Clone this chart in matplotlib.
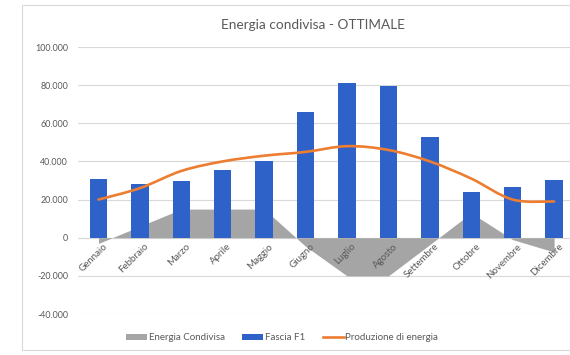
import numpy as np
import matplotlib
matplotlib.use("Agg")
import matplotlib.pyplot as plt
from matplotlib.path import Path
from matplotlib.patches import PathPatch, Rectangle, Patch
from matplotlib.lines import Line2D
from matplotlib.ticker import FuncFormatter

months = ["Gennaio", "Febbraio", "Marzo", "Aprile", "Maggio", "Giugno",
          "Luglio", "Agosto", "Settembre", "Ottobre", "Novembre", "Dicembre"]
fascia_f1 = [31000, 28000, 30000, 35500, 40000, 66000,
             81000, 79500, 53000, 24000, 26500, 30500]
produzione = [20000, 26000, 35000, 40000, 43000, 45000,
              48000, 46000, 40000, 31000, 20000, 19000]
energia_condivisa = [-3000, 6000, 15000, 15000, 15000, -4500,
                     -20000, -20000, -3600, 13000, -1000, -7500]
y_ticks = [-40000, -20000, 0, 20000, 40000, 60000, 80000, 100000]

BLUE = "#2F62C8"
ORANGE = "#ED7D31"
GRAY = "#A5A5A5"
GRID = "#D9D9D9"
TEXT = "#595959"

plt.rcParams["font.family"] = ["Lato", "DejaVu Sans"]

W, H = 570, 355
fig = plt.figure(figsize=(W / 100, H / 100), dpi=100)

# outer chart frame
fig.add_artist(Rectangle((22 / W, 5 / H), 1.0, 345 / H, transform=fig.transFigure,
                         fill=False, edgecolor=GRID, linewidth=0.8))

left, right = 77.8 / W, 574.8 / W
top, bottom = 1 - 47 / H, 1 - 314 / H
ax = fig.add_axes([left, bottom, right - left, top - bottom])
ax.set_clip_on(False)

x = np.arange(len(months))

# shared energy as an area anchored at zero
ax.fill_between(x, 0, energia_condivisa, color=GRAY, linewidth=0, zorder=2)

# PV band bars
ax.bar(x, fascia_f1, width=0.42, color=BLUE, zorder=3)

# smoothed production curve (Catmull-Rom to cubic Bezier)
def smooth_path(xs, ys, tension=1 / 6):
    pts = np.column_stack([xs, ys]).astype(float)
    verts = [pts[0]]
    codes = [Path.MOVETO]
    n = len(pts)
    for i in range(n - 1):
        p0 = pts[i - 1] if i > 0 else pts[i]
        p1 = pts[i]
        p2 = pts[i + 1]
        p3 = pts[i + 2] if i + 2 < n else pts[i + 1]
        c1 = p1 + (p2 - p0) * tension
        c2 = p2 - (p3 - p1) * tension
        verts += [c1, c2, p2]
        codes += [Path.CURVE4] * 3
    return Path(verts, codes)

ax.add_patch(PathPatch(smooth_path(x, produzione), facecolor="none",
                       edgecolor=ORANGE, linewidth=1.9, zorder=4,
                       capstyle="round", joinstyle="round"))

ax.set_xlim(-0.5, len(months) - 0.5)
ax.set_ylim(-40000, 100000)
ax.set_yticks(y_ticks)
ax.yaxis.set_major_formatter(FuncFormatter(
    lambda v, _: "0" if v == 0 else f"{int(v):,}".replace(",", ".")))
ax.grid(axis="y", color=GRID, linewidth=0.8, zorder=0)
ax.set_axisbelow(True)
for s in ax.spines.values():
    s.set_visible(False)
ax.axhline(0, color=GRID, linewidth=0.8, zorder=1)
ax.tick_params(axis="y", length=0, pad=7, labelsize=6.4, labelcolor=TEXT)
ax.tick_params(axis="x", length=0)
ax.set_xticks(x)
ax.set_xticklabels([])

# month labels rotated along the zero line
for xi, m in zip(x, months):
    ax.annotate(m, xy=(xi, 0), xytext=(3, -3), textcoords="offset points",
                rotation=45, rotation_mode="anchor", ha="right", va="top",
                fontsize=7.0, color=TEXT, zorder=5)

fig.text(313 / W, 1 - 25 / H, "Energia condivisa - OTTIMALE", ha="center",
         va="center", fontsize=9.8, color=TEXT)

handles = [Patch(facecolor=GRAY, edgecolor="none"),
           Patch(facecolor=BLUE, edgecolor="none"),
           Line2D([0], [0], color=ORANGE, linewidth=1.9)]
labels = ["Energia Condivisa", "Fascia F1", "Produzione di energia"]
fig.legend(handles, labels, loc="center", bbox_to_anchor=(282 / W, 1 - 338 / H),
           ncol=3, frameon=False, fontsize=7.0, labelcolor=TEXT,
           handlelength=2.2, handleheight=0.45, handletextpad=0.15,
           columnspacing=1.8)

fig.savefig("out.png", dpi=100)
